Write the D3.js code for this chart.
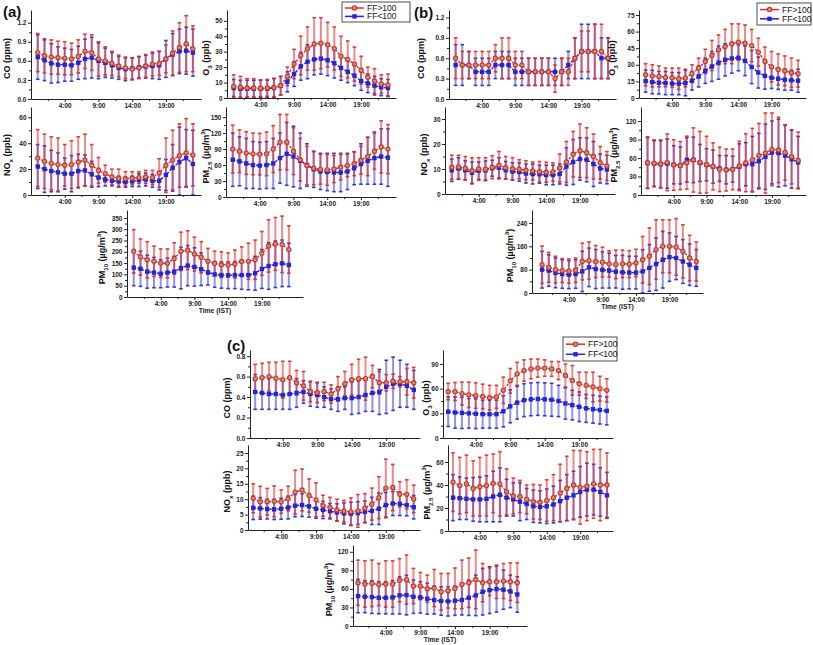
<!DOCTYPE html>
<html><head><meta charset="utf-8">
<script src="https://cdn.jsdelivr.net/npm/d3@7"></script>
<style>body{margin:0;background:#fff}svg{display:block}text{font-family:"Liberation Sans",Arial,sans-serif}</style>
</head><body><svg id="chart" width="813" height="645"></svg>
<script>
// ---------- categories / tick labels ----------
const hours = [0,1,2,3,4,5,6,7,8,9,10,11,12,13,14,15,16,17,18,19,20,21,22,23];
const xTickHours = [4,9,14,19];
const xTickLabels = ["4:00","9:00","14:00","19:00"];
const seriesNames = ["FF>100","FF<100"];
const panelLabels = ["(a)","(b)","(c)"];

// ---------- (a) ----------
const aCO_gt = [0.73,0.68,0.66,0.65,0.64,0.63,0.67,0.75,0.73,0.63,0.60,0.56,0.52,0.49,0.47,0.49,0.52,0.55,0.56,0.63,0.72,0.81,0.87,0.79];
const aCO_gt_err = [0.30,0.27,0.27,0.26,0.26,0.25,0.26,0.27,0.28,0.27,0.22,0.19,0.17,0.17,0.17,0.17,0.18,0.19,0.19,0.22,0.35,0.39,0.44,0.36];
const aCO_lt = [0.66,0.61,0.56,0.54,0.54,0.53,0.57,0.63,0.65,0.60,0.57,0.53,0.49,0.47,0.48,0.50,0.51,0.52,0.53,0.63,0.70,0.75,0.76,0.73];
const aCO_lt_err = [0.35,0.32,0.31,0.28,0.26,0.25,0.26,0.31,0.32,0.28,0.23,0.20,0.18,0.18,0.17,0.17,0.18,0.20,0.22,0.29,0.33,0.35,0.37,0.37];

const aO3_gt = [7.5,7,6.5,6.5,6.3,6.5,6.8,8,14,22,27.5,32,35,35.5,34.5,32,27,25,22,18,13.5,11,9,8.5];
const aO3_gt_err = [7.5,7,6,6,5.5,5.5,6,6,6,9.5,12.5,14,17,16.5,14.5,14,13,12,11,9,6.5,8,6,7];
const aO3_lt = [6.5,6,6,6,6,6,6.5,8,10.5,15.5,20.5,23.5,25,25.5,24.5,22.5,19.5,17,14.5,11,9.5,8,7,6.5];
const aO3_lt_err = [5.5,5.5,5.5,5.5,5.5,5.5,6,6,6.5,8,9,11,10,10,10,9.5,8,7,6.5,6,6,6,5.5,5.5];

const aNOx_gt = [28.5,26,24.5,23.5,23,23.5,25.5,27,23,19,16.5,14,13,12.5,13,13.5,14,13.5,17,23,27,30.5,32.5,31];
const aNOx_gt_err = [22,21,20.5,20.5,16,18.5,19.5,20,16,10,6.5,6,7,5.5,5,4.5,5,5.5,11,21,23,24.5,26.5,24];
const aNOx_lt = [22,20,18.5,17.5,16.5,16.5,18.5,19,16,13.5,12,11,10.5,10,10.5,11.5,12,11,11,15.5,21,25.5,28.5,24];
const aNOx_lt_err = [17,18,16,15,12,14,13,12,10,7,5,4,4,4,4,5,5,5,7,12,18,27,22,26];

const aPM25_gt = [90,86,82.5,81,80.5,81,90,103,103,86,70,59,54,52,51,52.5,56,59,62.5,69,76,86,94,90];
const aPM25_gt_err = [45,40,40,39,39,41,44,52,52,44,40,36,31,28,29,25.5,24,21,22.5,26,36,34,49,46];
const aPM25_lt = [70,67,63,60,59,60,63,73,81,76,68,60,52,48,47,46,46,48,54,62,68,73,76,74];
const aPM25_lt_err = [50,46,47,44,44,44,47,47,59,57,52,40,34,34,35,36,36,34,31,38,44,49,52,54];

const aPM10_gt = [202,177,165,158,150,149,170,202,207,190,176,158,149,143,142,146,157,158,165,193,226,235,233,210];
const aPM10_gt_err = [96,80,80,67,63,64,70,85,86,75,69,57,54,57,53,62,65,80,87,97,116,117,125,105];
const aPM10_lt = [130,125,112,108,103,108,112,128,139,133,123,109,100,97,96,97,97,97,105,124,137,145,149,142];
const aPM10_lt_err = [80,78,73,67,62,64,68,92,89,85,72,56,57,58,59,60,63,65,75,86,103,103,103,96];

// ---------- (b) ----------
const bCO_gt = [0.6,0.5,0.5,0.5,0.5,0.5,0.6,0.6,0.6,0.5,0.5,0.4,0.4,0.4,0.4,0.3,0.4,0.4,0.6,0.7,0.7,0.7,0.7,0.6];
const bCO_gt_err = [0.3,0.2,0.2,0.2,0.2,0.2,0.2,0.3,0.3,0.2,0.2,0.2,0.2,0.2,0.2,0.2,0.2,0.2,0.3,0.3,0.3,0.4,0.4,0.3];
const bCO_lt = [0.5,0.5,0.5,0.4,0.4,0.4,0.5,0.5,0.5,0.4,0.4,0.4,0.4,0.4,0.4,0.4,0.4,0.5,0.6,0.7,0.7,0.7,0.6,0.6];
const bCO_lt_err = [0.3,0.3,0.2,0.2,0.2,0.2,0.2,0.2,0.2,0.2,0.2,0.2,0.2,0.2,0.2,0.2,0.2,0.2,0.3,0.4,0.4,0.4,0.3,0.3];

const bO3_gt = [21,20,19.5,18.6,18.3,17.4,18,22,27,33,38.4,43.5,46.5,49,50.5,49.5,47.4,41.4,33.3,28.2,25.8,24.6,22.8,21.9];
const bO3_gt_err = [10,10,9.5,8.5,8.7,9.6,8,8,9,11,13.6,13.5,15.5,18,16.5,16.5,14.6,12.6,12.7,13.8,14,13.4,13.2,12.1];
const bO3_lt = [15.3,14.4,13.8,13.5,13,13,13.5,15.6,19.5,24.6,28.5,32,34.5,35.7,36.3,33.6,28,23,20,18.3,17.4,16.5,16,15.6];
const bO3_lt_err = [10,10.6,10.2,10.5,10,10,11.5,8.4,9.5,11.4,13.5,15,14.5,13.3,11.7,13.4,15,14,12,9.7,9.6,9.5,9,10.4];

const bNOx_gt = [10.7,10.8,10.3,9.3,10,9.9,10.7,11.5,10.5,10.1,9.9,9.5,9.2,8.9,8.7,8.8,10.4,12.8,15.9,17.3,16.5,15,12.5,11.2];
const bNOx_gt_err = [4.8,4.7,4.7,5.2,4.5,4.6,4.6,5.5,4.5,4.4,3.8,3.8,3.6,4.1,4,3.7,5.6,8.2,9.1,10.7,10,9,6.5,5.8];
const bNOx_lt = [9.5,10.2,9.5,8.5,9.3,9.4,10.3,10.5,9.5,9.0,8.8,8.2,8.0,7.9,7.6,7.6,8.0,11.0,12.8,14.0,13.7,12.0,10.2,9.8];
const bNOx_lt_err = [4.5,4.3,3.8,4.3,3.5,3.8,3.2,4.0,3.5,3.5,3.7,3.8,4.0,3.6,3.9,3.9,4.0,7.5,9.0,8.5,8.8,9.0,5.8,5.7];

const bPM25_gt = [52.4,51.4,50.3,53,48.6,47.6,52.4,56.8,53,49.2,46.5,41.6,40.5,41.6,47,52.4,57,64,68,74,73,69,62,56];
const bPM25_gt_err = [42,38,39,46,41,39,43,52,50,46,38,36,34,33,40,47,51,52,65,59,53,45,44,46];
const bPM25_lt = [52,51,50,51,49,48,57,57,52,49,46,43,41,42,46,50,50,55,62,69,68,64,58,53];
const bPM25_lt_err = [41,37,38,40,31,30,36,37,30,26,27,21,23,21,37,35,45,45,53,51,55,49,47,42];

const bPM10_gt = [97,88,80,77,75,78,108,111,108,106,100,98,100,99,103,114,126,149,160,160,158,143,120,108];
const bPM10_gt_err = [64,51,46,41,42,42,63,64,55,51,45,49,47,46,47,80,97,102,91,91,97,91,78,67];
const bPM10_lt = [80,77,69,65,63,65,74,88,82,79,77,73,71,70,70,74,86,99,114,123,120,108,97,86];
const bPM10_lt_err = [63,54,51,49,48,49,69,66,67,62,60,56,58,56,56,74,80,90,97,83,74,75,71,63];

// ---------- (c) ----------
const cCO_gt = [0.58,0.59,0.60,0.585,0.57,0.59,0.54,0.51,0.455,0.445,0.455,0.43,0.48,0.53,0.57,0.58,0.58,0.60,0.54,0.54,0.555,0.55,0.55,0.54];
const cCO_gt_err = [0.14,0.14,0.14,0.155,0.18,0.16,0.12,0.14,0.10,0.10,0.09,0.09,0.12,0.12,0.15,0.19,0.21,0.11,0.11,0.08,0.07,0.05,0.13,0.15];
const cCO_lt = [0.45,0.44,0.43,0.43,0.42,0.43,0.44,0.45,0.43,0.42,0.40,0.38,0.38,0.39,0.39,0.40,0.42,0.44,0.45,0.50,0.53,0.53,0.51,0.47];
const cCO_lt_err = [0.17,0.16,0.15,0.15,0.14,0.15,0.14,0.11,0.12,0.12,0.10,0.10,0.12,0.11,0.16,0.16,0.16,0.18,0.22,0.26,0.26,0.23,0.21,0.19];

const cO3_gt = [56.5,56.5,54,52.5,51.5,50.5,49,50,58,69.5,78,82,84,85,85,84,82,76,70,66,64,62,60,58];
const cO3_gt_err = [10,11,14,15.5,15.5,15,15,14,16,15,14,13,12,11,10,9,11,14,18,14,16,18,15,14];
const cO3_lt = [32,31,30.5,30,29.5,29,29,29,32.5,38.5,43,46,47,47.5,47,46.5,45,42,40,38,36,35,34,33];
const cO3_lt_err = [18,19,19,18,18,17,17,17,19,20,20,20,20,20,20,20,19,19,18,18,17,17,17,17];

const cNOx_gt = [10.3,9.2,9.2,9.3,9.2,10.2,12.3,13.0,11.2,9.8,7.9,7.3,6.5,6.1,5.9,6.2,7.1,8.4,10.5,13.6,13.8,11.6,11.6,10.1];
const cNOx_gt_err = [4.7,5,4.3,5,3.8,4,7.1,6.8,5.4,5.5,3.4,3.3,3.5,3.5,4.5,5.3,4.7,5.2,6.8,9.4,7.5,4.1,4.7,4.5];
const cNOx_lt = [7.2,7.0,6.8,6.7,6.9,7.3,7.9,8.1,7.7,6.9,6.5,6.1,5.7,5.4,5.3,5.5,5.9,6.2,6.9,8.1,8.6,8.5,8.1,7.4];
const cNOx_lt_err = [3.8,3.5,3.2,3.3,3.4,3.7,3.6,3.7,3.5,3.1,2.8,2.5,2.8,3.4,3.7,3.7,3.5,4.4,5.1,4.1,3.9,3.8,3.5,3.8];

const cPM25_gt = [42.5,39.5,41,37,38.5,39.5,41.5,41,34,30.5,30,27.5,25.5,25,26.5,29,33,37,40,38,39,41,40,40];
const cPM25_gt_err = [25.5,24.5,25,24,25.5,26.5,25.5,28,20,15.5,14,12.5,15,15,18,20,25,28,30,32,30,30,31,28];
const cPM25_lt = [29,28.5,28,27.5,27.5,28,30,31.5,29,27.5,25.5,23.5,21.5,21,21.5,23,26,29,31,34,36,36,34,31];
const cPM25_lt_err = [20,18.5,18,19,19.5,20,22,23.5,16,14.5,16.5,13.5,14,14,15,16,18,20,21,22,23,22,21,20];

const cPM10_gt = [70,68,69,67,68,68,74,75,64.6,64.6,60.3,61.4,55.4,57,60.8,67.3,70,75.3,70,71.6,71.6,72.7,71.6,70];
const cPM10_gt_err = [36.6,37.5,37.6,34,37.5,37.5,35,39.6,28.5,22,22,30,29.6,28,33,39.3,40,47.4,31,22.4,27,28.3,30.4,32];
const cPM10_lt = [48.4,47.4,46.8,45.7,45.7,46.3,49.5,50,47.4,46.3,44.1,42,40.4,39.8,40.9,42,45.7,49.5,55.4,58,59.7,58.7,56,51];
const cPM10_lt_err = [27,25.8,26.4,26,26,27,30,32,27,25.3,25,22.6,23,23.7,23.7,24.2,28.6,32.8,37.6,37.8,37.2,31.7,26.3,28.7];

// ---------- layout (positions are presentation, not data) ----------
const CO = [["CO (ppm)",""]];
const O3 = [["O",""],["3","sub"],[" (ppb)",""]];
const NOX = [["NO",""],["x","sub"],[" (ppb)",""]];
const PM25 = [["PM",""],["2.5","sub"],[" (\u00b5g/m",""],["3","sup"],[")",""]];
const PM10 = [["PM",""],["10","sub"],[" (\u00b5g/m",""],["3","sup"],[")",""]];

const plots = [
 {x0:31,x1:201,y0:10,y1:99,ymax:1.4,ticks:[0,0.3,0.6,0.9,1.2],fmt:".1f",lab:CO,lo:21,gt:aCO_gt,gte:aCO_gt_err,lt:aCO_lt,lte:aCO_lt_err},
 {x0:227,x1:396,y0:10,y1:98,ymax:57,ticks:[0,10,20,30,40,50],fmt:"d",lab:O3,lo:18,gt:aO3_gt,gte:aO3_gt_err,lt:aO3_lt,lte:aO3_lt_err},
 {x0:31,x1:201,y0:107,y1:195,ymax:68,ticks:[0,20,40,60],fmt:"d",lab:NOX,lo:21,gt:aNOx_gt,gte:aNOx_gt_err,lt:aNOx_lt,lte:aNOx_lt_err},
 {x0:226,x1:396,y0:107,y1:197,ymax:169,ticks:[0,30,60,90,120,150],fmt:"d",lab:PM25,lo:17,gt:aPM25_gt,gte:aPM25_gt_err,lt:aPM25_lt,lte:aPM25_lt_err},
 {x0:127,x1:303,y0:210,y1:297,ymax:385,ticks:[0,50,100,150,200,250,300,350],fmt:"d",lab:PM10,lo:22,hmax:25.1,time:true,gt:aPM10_gt,gte:aPM10_gt_err,lt:aPM10_lt,lte:aPM10_lt_err},

 {x0:449,x1:616,y0:10,y1:99,ymax:1.31,ticks:[0,0.3,0.6,0.9,1.2],fmt:".1f",lab:CO,lo:25,gt:bCO_gt,gte:bCO_gt_err,lt:bCO_lt,lte:bCO_lt_err},
 {x0:639,x1:806,y0:10,y1:98,ymax:79.5,ticks:[0,15,30,45,60,75],fmt:"d",lab:O3,lo:24,gt:bO3_gt,gte:bO3_gt_err,lt:bO3_lt,lte:bO3_lt_err},
 {x0:445,x1:615,y0:107,y1:194,ymax:34.8,ticks:[0,10,20,30],fmt:"d",lab:NOX,lo:18,gt:bNOx_gt,gte:bNOx_gt_err,lt:bNOx_lt,lte:bNOx_lt_err},
 {x0:641,x1:806,y0:107,y1:195,ymax:142.7,ticks:[0,30,60,90,120],fmt:"d",lab:PM25,lo:24,gt:bPM25_gt,gte:bPM25_gt_err,lt:bPM25_lt,lte:bPM25_lt_err},
 {x0:532,x1:703,y0:210,y1:293,ymax:284.6,ticks:[0,80,160,240],fmt:"d",lab:PM10,lo:19,hmin:-1.5,hmax:24,time:true,gt:bPM10_gt,gte:bPM10_gt_err,lt:bPM10_lt,lte:bPM10_lt_err},

 {x0:250,x1:420,y0:350,y1:438,ymax:0.86,ticks:[0,0.2,0.4,0.6,0.8],fmt:".1f",lab:CO,lo:20,hmin:-0.75,hmax:23.9,gt:cCO_gt,gte:cCO_gt_err,lt:cCO_lt,lte:cCO_lt_err},
 {x0:443,x1:613,y0:350,y1:438,ymax:107,ticks:[0,30,60,90],fmt:"d",lab:O3,lo:14,hmin:-0.75,hmax:23.9,gt:cO3_gt,gte:cO3_gt_err,lt:cO3_lt,lte:cO3_lt_err},
 {x0:248,x1:420,y0:445,y1:530,ymax:27.6,ticks:[0,5,10,15,20,25],fmt:"d",lab:NOX,lo:18,hmin:-0.75,hmax:23.9,gt:cNOx_gt,gte:cNOx_gt_err,lt:cNOx_lt,lte:cNOx_lt_err},
 {x0:448,x1:613,y0:445,y1:531,ymax:74.8,ticks:[0,20,40,60],fmt:"d",lab:PM25,lo:18,hmin:-0.75,hmax:23.9,gt:cPM25_gt,gte:cPM25_gt_err,lt:cPM25_lt,lte:cPM25_lt_err},
 {x0:353,x1:527,y0:545,y1:626,ymax:131,ticks:[0,30,60,90,120],fmt:"d",lab:PM10,lo:21,hmin:-0.72,hmax:24.4,time:true,gt:cPM10_gt,gte:cPM10_gt_err,lt:cPM10_lt,lte:cPM10_lt_err}
];

const RED = "#e02a22", BLUE = "#2424d8";
const svg = d3.select("#chart");

function richText(sel, parts, size){
  let pending = 0;
  parts.forEach(([t,m])=>{
    const ts = sel.append("tspan").text(t);
    if(m==="sub"){ ts.attr("font-size", size*0.68).attr("dy", pending+2.5); pending = -2.5; }
    else if(m==="sup"){ ts.attr("font-size", size*0.68).attr("dy", pending-4); pending = 4; }
    else { ts.attr("font-size", size).attr("dy", pending); pending = 0; }
  });
}

function drawPlot(p){
  const g = svg.append("g");
  const x = d3.scaleLinear().domain([p.hmin ?? -1, p.hmax ?? 24.2]).range([p.x0, p.x1]);
  const y = d3.scaleLinear().domain([0, p.ymax]).range([p.y1, p.y0]);
  const series = [
    {v:p.lt, e:p.lte, color:BLUE, op:0.5, kind:"sq"},
    {v:p.gt, e:p.gte, color:RED, op:0.55, kind:"ci"}
  ];
  series.forEach(s=>{
    const eb = g.append("g").attr("stroke", s.color).attr("stroke-opacity", s.op);
    hours.forEach((h,i)=>{
      const lo = Math.max(0, s.v[i]-s.e[i]), hi = s.v[i]+s.e[i];
      eb.append("line").attr("x1",x(h)).attr("x2",x(h)).attr("y1",y(lo)).attr("y2",y(hi)).attr("stroke-width",2);
      eb.append("line").attr("x1",x(h)-1.8).attr("x2",x(h)+1.8).attr("y1",y(hi)).attr("y2",y(hi)).attr("stroke-width",1.6).attr("stroke-opacity",0.9);
      eb.append("line").attr("x1",x(h)-1.8).attr("x2",x(h)+1.8).attr("y1",y(lo)).attr("y2",y(lo)).attr("stroke-width",1.6).attr("stroke-opacity",0.9);
    });
  });
  series.forEach(s=>{
    const line = d3.line().x((d,i)=>x(hours[i])).y(d=>y(d));
    g.append("path").datum(s.v).attr("d",line).attr("fill","none").attr("stroke",s.color)
      .attr("stroke-width",1.4).attr("stroke-dasharray","2.5,1.5");
    if(s.kind==="sq"){
      g.append("g").selectAll("rect").data(s.v).join("rect")
        .attr("x",(d,i)=>x(hours[i])-2.2).attr("y",d=>y(d)-2.2).attr("width",4.4).attr("height",4.4)
        .attr("fill",s.color);
    } else {
      g.append("g").selectAll("circle").data(s.v).join("circle")
        .attr("cx",(d,i)=>x(hours[i])).attr("cy",d=>y(d)).attr("r",2.1)
        .attr("fill","#a4a282").attr("stroke",s.color).attr("stroke-width",1.1);
    }
  });
  // axes
  const xa = g.append("g").attr("transform",`translate(0,${p.y1})`)
    .call(d3.axisBottom(x).tickValues(xTickHours).tickFormat((d,i)=>xTickLabels[i]).tickSize(3).tickSizeOuter(0).tickPadding(1.5));
  g.append("g").attr("transform",`translate(0,${p.y1})`)
    .call(d3.axisBottom(x).tickValues(xTickHours.map(h=>h+2.5).concat([xTickHours[0]-2.5])).tickFormat("").tickSize(2).tickSizeOuter(0))
    .select(".domain").remove();
  const mids = p.ticks.slice(1).map((t,i)=>(t+p.ticks[i])/2);
  const ya = g.append("g").attr("transform",`translate(${p.x0},0)`)
    .call(d3.axisLeft(y).tickValues(p.ticks).tickFormat(d3.format(p.fmt)).tickSize(3).tickSizeOuter(0).tickPadding(1.5));
  g.append("g").attr("transform",`translate(${p.x0},0)`)
    .call(d3.axisLeft(y).tickValues(mids).tickFormat("").tickSize(2).tickSizeOuter(0))
    .select(".domain").remove();
  [xa, ya].forEach(a=>{
    a.selectAll("text").attr("font-size",6.5).attr("font-weight","bold").attr("fill","#222").attr("font-family","Liberation Sans, Arial, sans-serif");
  });
  g.selectAll(".domain").attr("stroke","#222");
  g.selectAll(".tick line").attr("stroke","#222");
  // y-label
  const yl = g.append("text").attr("transform",`translate(${p.x0-p.lo},${(p.y0+p.y1)/2+4}) rotate(-90)`)
    .attr("text-anchor","middle").attr("font-size",9).attr("font-weight","bold").attr("fill","#111");
  richText(yl, p.lab, 9);
  if(p.time){
    g.append("text").attr("x",(p.x0+p.x1)/2).attr("y",p.y1+16).attr("text-anchor","middle")
      .attr("font-size",6.8).attr("font-weight","bold").attr("fill","#222").text("Time (IST)");
  }
}
plots.forEach(drawPlot);

function legend(x0,y0,w,h){
  const g = svg.append("g");
  g.append("rect").attr("x",x0).attr("y",y0).attr("width",w).attr("height",h).attr("fill","#fff").attr("stroke","#222").attr("stroke-width",0.8);
  [[RED,"ci"],[BLUE,"sq"]].forEach(([c,k],i)=>{
    const yy = y0 + h*(i===0?0.3:0.72);
    g.append("line").attr("x1",x0+3).attr("x2",x0+22).attr("y1",yy).attr("y2",yy).attr("stroke",c).attr("stroke-width",1.5);
    if(k==="ci") g.append("circle").attr("cx",x0+12.5).attr("cy",yy).attr("r",2.2).attr("fill","#a4a282").attr("stroke",c).attr("stroke-width",1.1);
    else g.append("rect").attr("x",x0+10.3).attr("y",yy-2.2).attr("width",4.4).attr("height",4.4).attr("fill",c);
    g.append("text").attr("x",x0+25).attr("y",yy+3).attr("font-size",8.5).attr("fill","#111").text(seriesNames[i]);
  });
}
legend(342,2,68,20);
legend(757,3,54,22);
legend(563,337,54,24);

[[3,17],[414,18],[227,351]].forEach(([x,y],i)=>{
  svg.append("text").attr("x",x).attr("y",y).attr("font-size",15).attr("font-weight","bold").attr("fill","#111").text(panelLabels[i]);
});
</script></body></html>
